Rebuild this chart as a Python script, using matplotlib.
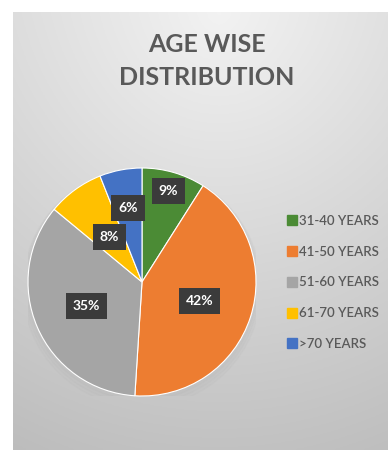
import numpy as np
import matplotlib
matplotlib.use("Agg")
import matplotlib.pyplot as plt
from matplotlib.lines import Line2D

categories = ["31-40 YEARS", "41-50 YEARS", "51-60 YEARS", "61-70 YEARS", ">70 YEARS"]
values = [9, 42, 35, 8, 6]
labels = ["9%", "42%", "35%", "8%", "6%"]
colors = ["#4b8b35", "#ed7d31", "#a5a5a5", "#ffc000", "#4472c4"]
title = "AGE WISE\nDISTRIBUTION"

plt.rcParams['font.family'] = ['Lato', 'DejaVu Sans']

W, H = 388, 450
fig = plt.figure(figsize=(W / 100, H / 100), dpi=100)
fig.patch.set_facecolor("white")

# background chart area with gradient
bg = fig.add_axes([13 / W, 0, 1 - 13 / W, 1 - 12 / H])
bg.set_axis_off()
ny, nx = 200, 200
yy, xx = np.mgrid[0:1:ny * 1j, 0:1:nx * 1j]
d = np.sqrt(((xx - 0.55) * 1.0) ** 2 + (yy * 1.0) ** 2)
val = 0.95 - 0.18 * np.clip(d, 0, 1.2) / 1.2 - 0.04 * yy
img = np.dstack([val, val, val])
bg.imshow(img, extent=[0, 1, 0, 1], aspect="auto", origin="upper")
bg.set_xlim(0, 1)
bg.set_ylim(0, 1)

# title
fig.text(207 / W, 1 - 61 / H, title, ha="center", va="center",
         fontsize=18, fontweight="bold", color="#595959", linespacing=1.5)

# pie
cx, cy, r = 142, 282, 114
pax = fig.add_axes([(cx - r) / W, (H - cy - r) / H, 2 * r / W, 2 * r / H])
pax.set_axis_off()
for i, a in enumerate([0.03, 0.03, 0.03]):
    sh = plt.Circle((0.0, -0.02 - 0.015 * i), 1.0 + 0.015 * (i + 1), color="#888888",
                    alpha=a, zorder=0)
    pax.add_patch(sh)
wedges, _ = pax.pie(values, colors=colors, startangle=90, counterclock=False,
                    wedgeprops=dict(edgecolor="white", linewidth=0.8))
pax.set_xlim(-1.0, 1.0)
pax.set_ylim(-1.0, 1.0)
pax.set_aspect("auto")

label_r = [0.83, 0.53, 0.53, 0.49, 0.66]
for w, lab, lr in zip(wedges, labels, label_r):
    ang = np.deg2rad((w.theta1 + w.theta2) / 2)
    x, y = lr * np.cos(ang), lr * np.sin(ang)
    pax.text(x, y, lab, ha="center", va="center", color="white", fontsize=10,
             fontweight="bold",
             bbox=dict(boxstyle="square,pad=0.5", facecolor="#3b3b3b",
                       edgecolor="none"))

# legend
handles = [Line2D([0], [0], marker="s", linestyle="none", markersize=6.5,
                  markerfacecolor=c, markeredgecolor=c) for c in colors]
leg = fig.legend(handles, categories, loc="upper left",
                 bbox_to_anchor=(287 / W, 1 - 215 / H), frameon=False,
                 prop=dict(family=['Lato', 'DejaVu Sans'], size=9.5, weight='semibold'),
                 labelcolor="#595959", handlelength=0.7,
                 handletextpad=0.2, labelspacing=1.42, borderpad=0,
                 borderaxespad=0)

fig.savefig("out.png", dpi=100, facecolor=fig.get_facecolor())
